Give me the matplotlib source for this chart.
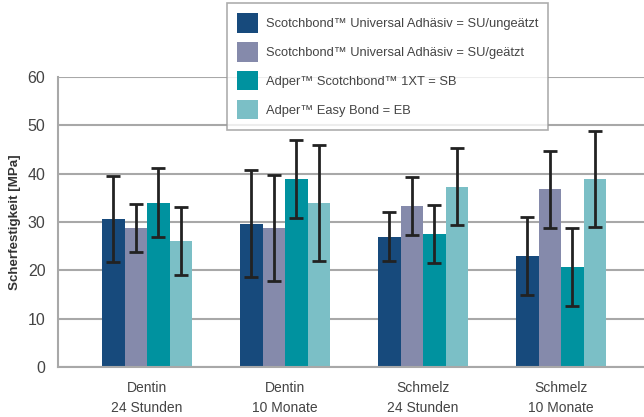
import matplotlib.pyplot as plt
import numpy as np

# Werte
gruppen = ['Dentin\n24 Stunden', 'Dentin\n10 Monate', 'Schmelz\n24 Stunden', 'Schmelz\n10 Monate']
serien = ['Scotchbond™ Universal Adhäsiv = SU/ungeätzt',
          'Scotchbond™ Universal Adhäsiv = SU/geätzt',
          'Adper™ Scotchbond™ 1XT = SB',
          'Adper™ Easy Bond = EB']
su_ungeaetzt = [30.7, 29.7, 27.0, 23.0]
su_geaetzt = [28.8, 28.8, 33.4, 36.8]
sb = [34.0, 38.9, 27.5, 20.7]
eb = [26.1, 34.0, 37.3, 38.9]
su_ungeaetzt_sd = [8.9, 11.1, 5.0, 8.0]
su_geaetzt_sd = [5.0, 11.0, 6.0, 8.0]
sb_sd = [7.1, 8.0, 6.0, 8.1]
eb_sd = [7.0, 12.0, 8.0, 10.0]
farben = ['#174a7c', '#858aab', '#00929f', '#7bbfc6']

werte = [su_ungeaetzt, su_geaetzt, sb, eb]
fehler = [su_ungeaetzt_sd, su_geaetzt_sd, sb_sd, eb_sd]

plt.rcParams['font.family'] = ['Liberation Sans', 'DejaVu Sans']

fig = plt.figure(figsize=(6.44, 4.17), dpi=100)
ax = fig.add_axes([0.090, 0.12, 0.91, 0.695])

x = np.arange(len(gruppen))
breite = 0.163
for i in range(4):
    pos = x + (i - 1.5) * breite
    ax.bar(pos, werte[i], breite, color=farben[i], label=serien[i], zorder=2)
    ax.errorbar(pos, werte[i], yerr=fehler[i], fmt='none', ecolor='#222222',
                elinewidth=2, capsize=5, capthick=2, zorder=3)

ax.set_xlim(-0.645, 3.6)
ax.set_ylim(0, 60)
ax.set_yticks(range(0, 61, 10))
ax.set_xticks(x)
ax.set_xticklabels(gruppen, fontsize=10, color='#444444', linespacing=1.55)
ax.tick_params(axis='y', labelsize=11.5, colors='#444444', length=0, pad=9)
ax.tick_params(axis='x', length=0, pad=10)
ax.yaxis.grid(True, color='#a8a8a8', linewidth=1.5, zorder=0)
ax.set_axisbelow(True)
for s in ['top', 'right']:
    ax.spines[s].set_visible(False)
for s in ['left', 'bottom']:
    ax.spines[s].set_color('#a8a8a8')
    ax.spines[s].set_linewidth(1.5)

ax.set_ylabel('Scherfestigkeit [MPa]', fontsize=9.6, fontweight='bold',
              color='#333333', labelpad=5)

leg = fig.legend(loc='upper left', bbox_to_anchor=(0.3525, 0.993), fontsize=9.3,
                 frameon=True, fancybox=False, handlelength=1.6, handleheight=1.95,
                 handletextpad=0.6, labelspacing=0.72, borderpad=0.8,
                 borderaxespad=0, labelcolor='#444444')
leg.get_frame().set_edgecolor('#999999')
leg.get_frame().set_linewidth(1.2)

fig.savefig('out.png', dpi=100)
